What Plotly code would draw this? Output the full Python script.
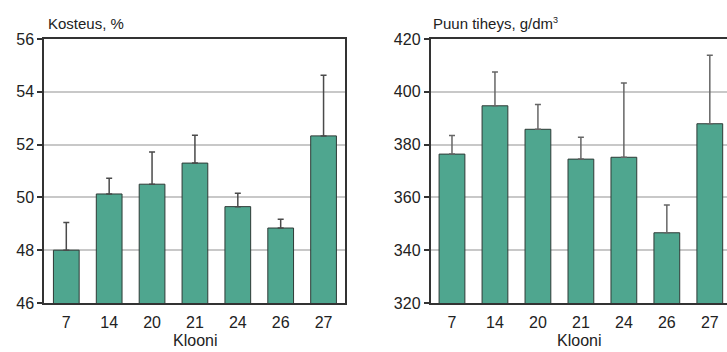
import plotly.graph_objects as go

klooni = ["7", "14", "20", "21", "24", "26", "27"]
kosteus = [48.0, 50.13, 50.5, 51.3, 49.65, 48.84, 52.33]
kosteus_err = [1.05, 0.6, 1.22, 1.05, 0.51, 0.33, 2.3]
tiheys = [376.4, 394.7, 385.8, 374.5, 375.2, 346.6, 387.9]
tiheys_err = [7.0, 12.8, 9.4, 8.3, 28.1, 10.5, 25.9]
kosteus_ticks = [46, 48, 50, 52, 54, 56]
tiheys_ticks = [320, 340, 360, 380, 400, 420]

W, H = 727, 352
top, bottom = 38.5, 303.5
FONT = "Liberation Sans, Arial, sans-serif"
BAR = "#4fa68f"
LINE = "#333333"
GRID = "#c8c8c8"

fig = go.Figure()
zeros = [0] * len(klooni)
fig.add_trace(go.Bar(x=klooni, y=kosteus, width=0.6, marker=dict(color=BAR, line=dict(color="#2e3a36", width=1)),
                     error_y=dict(type="data", array=kosteus_err, arrayminus=zeros, symmetric=False,
                                  color="#4a4a4a", thickness=1.5, width=3),
                     xaxis="x", yaxis="y", showlegend=False))
fig.add_trace(go.Bar(x=klooni, y=tiheys, width=0.6, marker=dict(color=BAR, line=dict(color="#2e3a36", width=1)),
                     error_y=dict(type="data", array=tiheys_err, arrayminus=zeros, symmetric=False,
                                  color="#666666", thickness=1.5, width=3),
                     xaxis="x2", yaxis="y2", showlegend=False))

tickfont = dict(family=FONT, size=16, color="#222222")
common_x = dict(type="category", showline=True, linecolor=LINE, linewidth=1.5, ticks="",
                tickfont=tickfont, showgrid=False, zeroline=False, ticklabelstandoff=4)
common_y = dict(showline=True, linecolor=LINE, linewidth=1.5, ticks="outside", ticklen=5,
                tickcolor=LINE, tickwidth=1.5, tickfont=tickfont, showgrid=True, gridcolor=GRID,
                gridwidth=1.5, zeroline=False)

fig.update_layout(
    width=W, height=H, margin=dict(l=0, r=0, t=top, b=H - bottom),
    paper_bgcolor="white", plot_bgcolor="white", bargap=0.4,
    xaxis=dict(common_x, domain=[44 / W, 345 / W], range=[-0.52, 6.5], mirror=True, anchor="y"),
    yaxis=dict(common_y, range=[46, 56], tickvals=kosteus_ticks, mirror=True, anchor="x"),
    xaxis2=dict(common_x, domain=[430.5 / W, 1], range=[-0.5, 6.4], mirror=True, anchor="y2"),
    yaxis2=dict(common_y, range=[320, 420], tickvals=tiheys_ticks, mirror=False, anchor="x2"),
)

ph = bottom - top
def py(pix):
    return (bottom - pix) / ph

annfont = dict(family=FONT, size=15, color="#222222")
fig.add_annotation(text="Kosteus, %", xref="x domain", yref="paper", x=2 / 301,
                   y=py(23), showarrow=False, xanchor="left", yanchor="middle", font=annfont)
fig.add_annotation(text="Puun tiheys, g/dm<sup><span style='font-size:9px'>3</span></sup>",
                   xref="x2 domain", yref="paper", x=0.0,
                   y=py(23), showarrow=False, xanchor="left", yanchor="middle", font=annfont)
kfont = dict(family=FONT, size=16, color="#222222")
fig.add_annotation(text="Klooni", xref="x domain", yref="paper", x=0.5, y=py(341), showarrow=False,
                   xanchor="center", yanchor="middle", font=kfont)
fig.add_annotation(text="Klooni", xref="x2 domain", yref="paper", x=0.5, y=py(341), showarrow=False,
                   xanchor="center", yanchor="middle", font=kfont)

fig.write_html("out.html")
